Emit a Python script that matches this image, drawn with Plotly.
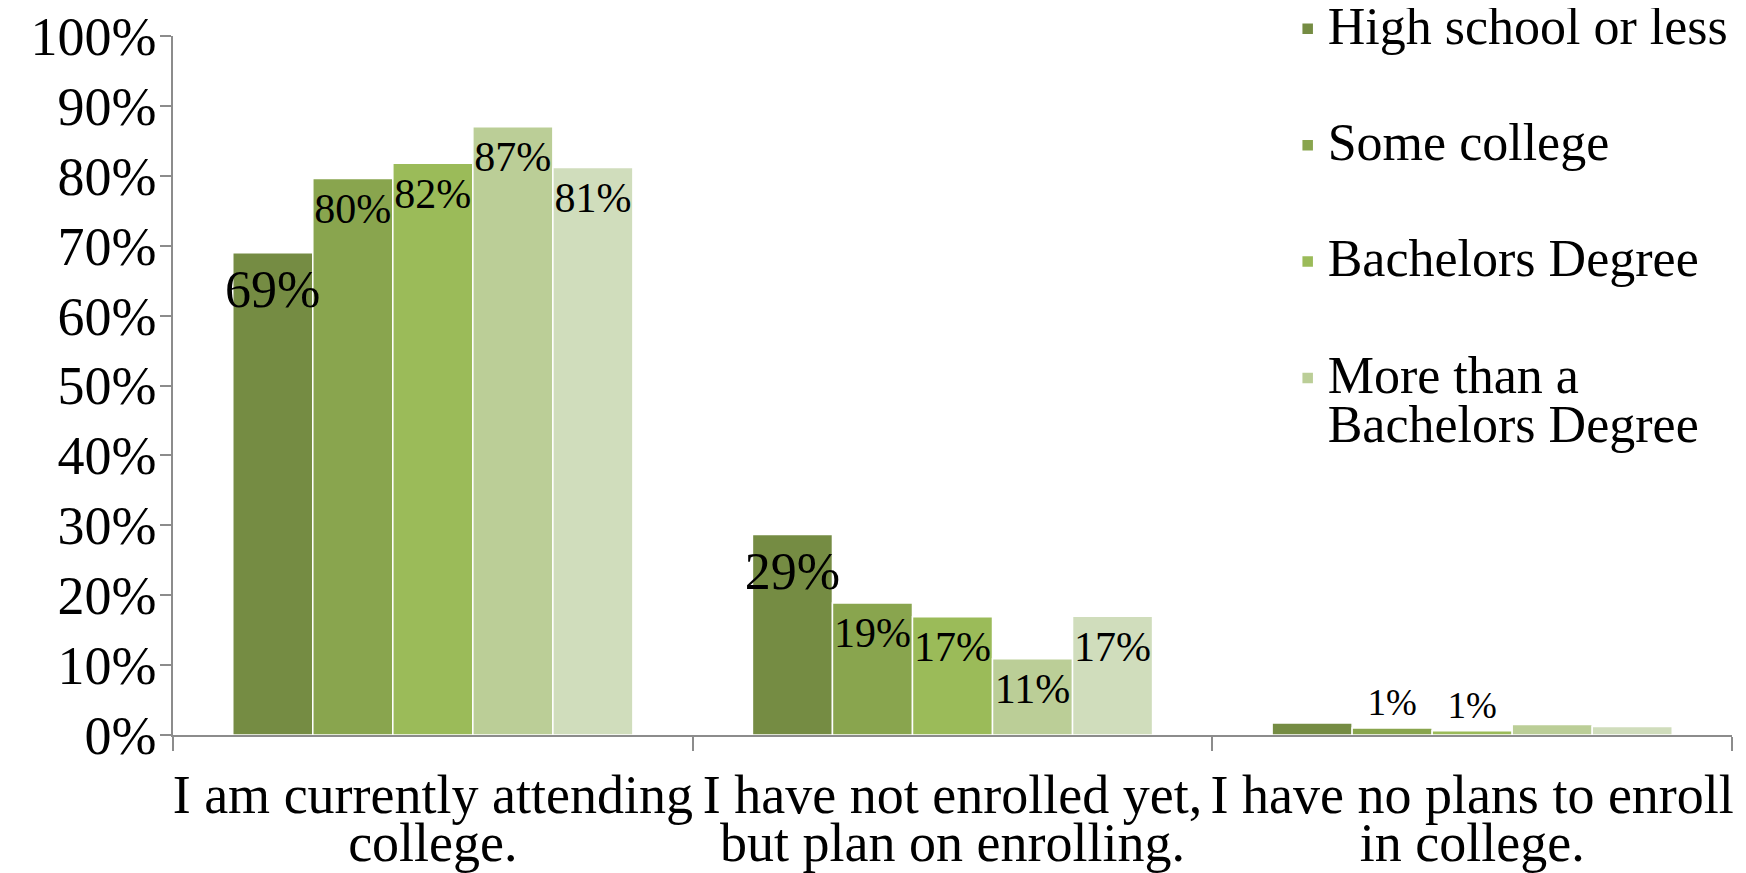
import plotly.graph_objects as go

# ---------------- data ----------------
categories = [
    "I am currently attending college.",
    "I have not enrolled yet, but plan on enrolling.",
    "I have no plans to enroll in college.",
]
category_tick_lines = [
    ["I am currently attending", "college."],
    ["I have not enrolled yet,", "but plan on enrolling."],
    ["I have no plans to enroll", "in college."],
]

series_names = [
    "High school or less",
    "Some college",
    "Bachelors Degree",
    "More than a<br>Bachelors Degree",
    "Other",
]

high_school = [69.0, 28.7, 1.7]
some_college = [79.6, 18.9, 1.0]
bachelors = [81.8, 16.9, 0.6]
more_than_bachelors = [87.0, 10.9, 1.5]
other = [81.2, 17.0, 1.2]

# which bars carry a data label
label_high_school = [True, True, False]
label_some_college = [True, True, True]
label_bachelors = [True, True, True]
label_more_than_bachelors = [True, True, False]
label_other = [True, True, False]

y_ticks = [0, 10, 20, 30, 40, 50, 60, 70, 80, 90, 100]
y_tick_labels = [f"{v}%" for v in y_ticks]

# ---------------- styling ----------------
colors = ["#758C43", "#89A54E", "#9BBB59", "#BBCE97", "#D0DDBC"]
FONT = "Liberation Serif"
AXIS_COLOR = "#8C8C8C"

series_values = [high_school, some_college, bachelors, more_than_bachelors, other]
series_labels = [label_high_school, label_some_college, label_bachelors,
                 label_more_than_bachelors, label_other]


def big_lines(text, size):
    return "<br>".join(f'<span style="font-size:{size}px">{ln}</span>'
                       for ln in text.split("<br>"))


fig = go.Figure()

for i, (name, vals) in enumerate(zip(series_names, series_values)):
    fig.add_trace(go.Bar(
        x=categories, y=vals, name=big_lines(name, 52),
        marker=dict(color=colors[i], line=dict(color="white", width=1.5)),
        offsetgroup=f"g{i}", legendgroup=f"g{i}",
        showlegend=(i < 4), hoverinfo="skip",
    ))

# data labels, positioned through grouped scatter traces
for i, (vals, show) in enumerate(zip(series_values, series_labels)):
    texts, positions, sizes, fsizes = [], [], [], []
    for v, s in zip(vals, show):
        texts.append(f"{round(v)}%" if s else "")
        inside = v > 5
        positions.append("bottom center" if inside else "top center")
        big = (i == 0)
        if inside:
            fsizes.append(52 if big else 42)
            sizes.append(23 if big else 19)
        else:
            fsizes.append(37)
            sizes.append(4)
    fig.add_trace(go.Scatter(
        x=categories, y=vals, mode="markers+text", text=texts,
        textposition=positions,
        textfont=dict(family=FONT, size=fsizes, color="black"),
        marker=dict(size=sizes, color="rgba(0,0,0,0)", opacity=0,
                    line=dict(width=0)),
        offsetgroup=f"g{i}", showlegend=False, hoverinfo="skip",
        cliponaxis=False,
    ))

ticktext = [
    "<br>".join(f'<span style="font-size:54px">{ln}</span>' for ln in lines)
    for lines in category_tick_lines
]

fig.update_layout(
    template="none",
    width=1746, height=873,
    margin=dict(l=165, r=22, t=28, b=146, pad=0, autoexpand=False),
    paper_bgcolor="white", plot_bgcolor="white",
    barmode="group", bargap=0.23, bargroupgap=0,
    scattermode="group", scattergap=0.23,
    font=dict(family=FONT, color="black"),
    legend=dict(
        x=0.715, xanchor="left", y=1.055, yanchor="top",
        font=dict(family=FONT, size=38, color="black"),
        tracegroupgap=64, valign="top", itemwidth=30,
        bgcolor="rgba(0,0,0,0)", maxheight=860,
    ),
    hovermode=False,
)

fig.update_xaxes(
    type="category", tickvals=categories, ticktext=ticktext,
    tickfont=dict(family=FONT, size=37, color="black"),
    ticks="outside", tickson="boundaries", ticklen=14, tickwidth=1.5,
    tickcolor=AXIS_COLOR, showline=True, linecolor=AXIS_COLOR, linewidth=1.5,
    showgrid=False, zeroline=False, tickangle=0, automargin=False,
    ticklabelstandoff=32, ticklabeloverflow="allow",
)
fig.update_yaxes(
    range=[0, 100], tickmode="array", tickvals=y_ticks, ticktext=y_tick_labels,
    tickfont=dict(family=FONT, size=54, color="black"),
    ticks="outside", ticklen=11, tickwidth=1.5, tickcolor=AXIS_COLOR,
    showline=True, linecolor=AXIS_COLOR, linewidth=1.5,
    showgrid=False, zeroline=False, automargin=False,
    ticklabelstandoff=-7, ticklabeloverflow="allow",
)

fig.write_html("out.html")
